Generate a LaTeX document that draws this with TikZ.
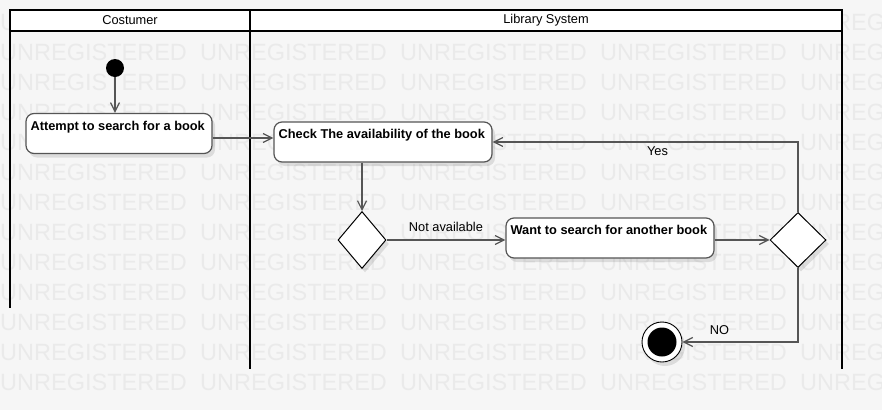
\documentclass[tikz,border=0pt]{standalone}
\usepackage{fontspec}
\setmainfont{Liberation Sans}
\usetikzlibrary{shapes.geometric,arrows.meta,shadows}
\definecolor{page-bg}{HTML}{F6F6F6}
\definecolor{mark-gray}{HTML}{EAEAEA}
\definecolor{flow-gray}{HTML}{555555}
\tikzset{
    lane-line/.style = {draw=black, line width=2pt},
    lane-title/.style = {font=\fontsize{12.8}{14}\selectfont, inner sep=0pt},
    watermark/.style = {text=mark-gray, font=\fontsize{23.5}{24}\selectfont, inner sep=0pt, anchor=base west},
    soft-shadow/.style = {drop shadow={shadow xshift=3pt, shadow yshift=-4pt, fill=black, opacity=0.1}},
    action-box/.style = {draw=flow-gray, fill=white, line width=1.2pt, rectangle, rounded corners=8pt, minimum height=40pt, inner sep=0pt, soft-shadow},
    action-text/.style = {anchor=north west, inner sep=0pt, font=\fontsize{12.8}{14}\selectfont\bfseries, xshift=5pt, yshift=-8pt},
    decision/.style = {diamond, draw=black, fill=white, line width=1pt, inner sep=0pt, soft-shadow},
    start-node/.style = {circle, fill=black, minimum size=18pt, inner sep=0pt},
    end-node/.style = {circle, draw=black, fill=white, line width=0.9pt, minimum size=40pt, inner sep=0pt, soft-shadow,
        path picture={\fill[black] (path picture bounding box.center) circle (14.5pt);}},
    flow/.style = {draw=flow-gray, line width=1.2pt, -{Straight Barb[length=9pt, width=9pt, line width=1.2pt]}},
    flow-label/.style = {font=\fontsize{12.8}{14}\selectfont},
}

\begin{document}
\begin{tikzpicture}[x=1pt, y=-1pt]
\fill[page-bg] (0,0) rectangle (882,410);
\useasboundingbox (0,0) rectangle (882,410);
\begin{scope}
\clip (0,0) rectangle (882,410);
\foreach \row in {0,...,12}
    \foreach \col in {0,...,4}
        \node[watermark] at (\col*200, 30+\row*30) {UNREGISTERED};
\end{scope}

% swimlanes
\draw[lane-line, fill=white] (10,10) rectangle (842,31);
\draw[lane-line] (250,10) -- (250,369);
\draw[lane-line] (10,31) -- (10,308);
\draw[lane-line] (842,31) -- (842,369);
\node[lane-title] (lane-costumer) at (130,20.5) {Costumer};
\node[lane-title] (lane-library) at (546,20.5) {Library System};

% activities
\node[start-node] (start) at (115,68) {};
\node[action-box, minimum width=186pt, label={[action-text]north west:Attempt to search for a book}] (attempt) at (119,133.5) {};
\node[action-box, minimum width=218pt, label={[action-text]north west:Check The availability of the book}] (check) at (383,142) {};
\node[decision, minimum width=48pt, minimum height=57pt] (avail) at (362,240) {};
\node[action-box, minimum width=208pt, label={[action-text]north west:Want to search for another book}] (another) at (610,238) {};
\node[decision, minimum width=56pt, minimum height=55pt] (again) at (798,240) {};
\node[end-node] (finish) at (662,342) {};

% transitions
\draw[flow] (start) -- (start |- attempt.north);
\draw[flow] ([yshift=-4.5pt]attempt.east) -- ([yshift=-4.5pt]attempt.east -| check.west);
\draw[flow] (avail |- check.south) -- (avail.north);
\draw[flow] (avail.east) -- node[flow-label, above=4pt] {Not available} (avail.east -| another.west);
\draw[flow] (avail.east -| another.east) -- (again.west);
\draw[flow] (again.north) |- node[flow-label, pos=0.73, below=1pt] {Yes} (check.east);
\draw[flow] (again.south) |- node[flow-label, pos=0.84, above=3pt] {NO} (finish.east);
\end{tikzpicture}
\end{document}
